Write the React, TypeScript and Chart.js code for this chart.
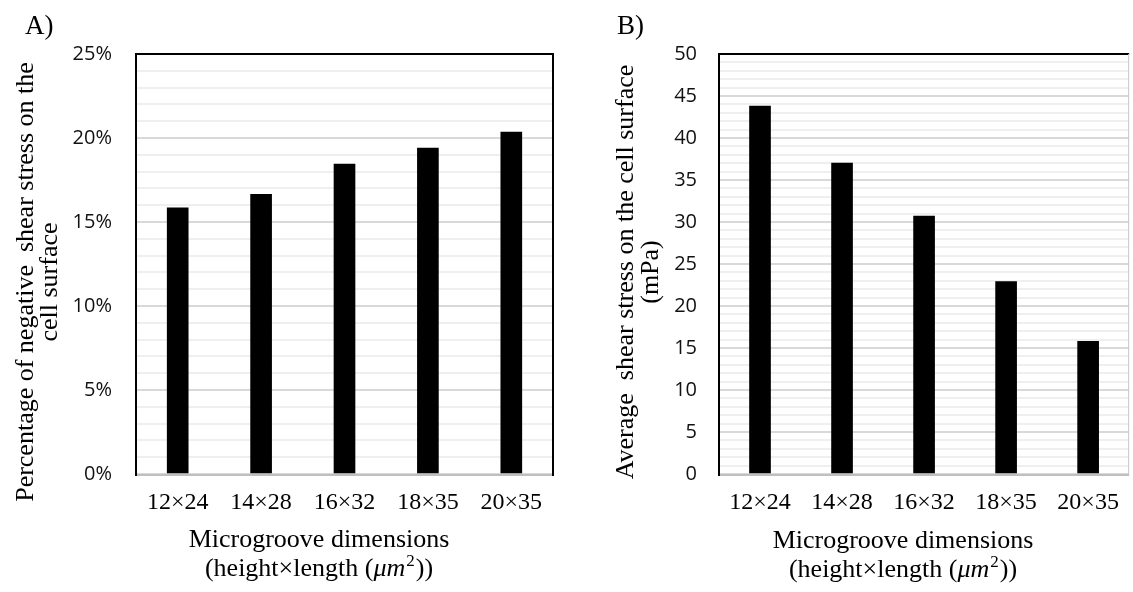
import React, { useEffect, useRef } from 'react';
import { Chart, registerables } from 'chart.js';
Chart.register(...registerables);

const categories = ['12×24', '14×28', '16×32', '18×35', '20×35'];
const negativeShearPct = [15.85, 16.65, 18.45, 19.4, 20.35];
const averageShear = [43.8, 37.0, 30.7, 22.9, 15.8];

const SERIF = '"Liberation Serif", "Times New Roman", serif';
const SANS = '"Open Sans", sans-serif';

type PanelCfg = {
  label: string;
  labelX: number;
  yTitle: string[];
  yTitleX: number[];
  yTitleY: number;
  xTitleCX: number;
  xTitleY: number[];
  rightBorder: string;
};

function makeTextPlugin(cfg: PanelCfg) {
  return {
    id: 'panelText',
    afterDraw(chart: any) {
      const { ctx, chartArea: ca } = chart;
      ctx.save();
      // bottom axis line
      ctx.strokeStyle = '#bfbfbf';
      ctx.lineWidth = 2;
      ctx.beginPath();
      ctx.moveTo(ca.left, ca.bottom + 1);
      ctx.lineTo(ca.right, ca.bottom + 1);
      ctx.stroke();
      // frame
      ctx.strokeStyle = '#000';
      ctx.lineWidth = 2;
      ctx.beginPath();
      ctx.moveTo(ca.left, ca.bottom + 2);
      ctx.lineTo(ca.left, ca.top);
      ctx.lineTo(ca.right, ca.top);
      if (cfg.rightBorder === 'black') ctx.lineTo(ca.right, ca.bottom + 2);
      ctx.stroke();
      if (cfg.rightBorder === 'gray') {
        ctx.strokeStyle = '#c8c8c8';
        ctx.lineWidth = 1;
        ctx.beginPath();
        ctx.moveTo(ca.right - 0.5, ca.top);
        ctx.lineTo(ca.right - 0.5, ca.bottom);
        ctx.stroke();
      }

      ctx.fillStyle = '#000';
      // panel label
      ctx.font = `27px ${SERIF}`;
      ctx.textAlign = 'left';
      ctx.textBaseline = 'alphabetic';
      ctx.fillText(cfg.label, cfg.labelX, 34);

      // y title
      ctx.font = `26px ${SERIF}`;
      ctx.textAlign = 'center';
      cfg.yTitle.forEach((line, i) => {
        ctx.save();
        ctx.translate(cfg.yTitleX[i], cfg.yTitleY);
        ctx.rotate(-Math.PI / 2);
        ctx.fillText(line, 0, 0);
        ctx.restore();
      });

      // x title line 1
      ctx.font = `26px ${SERIF}`;
      ctx.textAlign = 'center';
      ctx.fillText('Microgroove dimensions', cfg.xTitleCX, cfg.xTitleY[0]);

      // x title line 2 with italic μm and superscript 2
      ctx.textAlign = 'left';
      const pre = '(height×length (';
      const mu = 'μm';
      const sup = '2';
      const post = '))';
      const normal = `26px ${SERIF}`;
      const italic = `italic 26px ${SERIF}`;
      const small = `17px ${SERIF}`;
      ctx.font = normal;
      const wPre = ctx.measureText(pre).width;
      const wPost = ctx.measureText(post).width;
      ctx.font = italic;
      const wMu = ctx.measureText(mu).width;
      ctx.font = small;
      const wSup = ctx.measureText(sup).width;
      const total = wPre + wMu + wSup + 2 + wPost;
      let x = cfg.xTitleCX - total / 2;
      const y = cfg.xTitleY[1];
      ctx.font = normal;
      ctx.fillText(pre, x, y);
      x += wPre;
      ctx.font = italic;
      ctx.fillText(mu, x, y);
      x += wMu + 1;
      ctx.font = small;
      ctx.fillText(sup, x, y - 10);
      x += wSup + 1;
      ctx.font = normal;
      ctx.fillText(post, x, y);
      ctx.restore();
    },
  };
}

function makeConfig(
  values: number[],
  max: number,
  fmt: (v: number) => string,
  yWidth: number,
  padRight: number,
  tickPad: number,
  cfg: PanelCfg
): any {
  return {
    type: 'bar',
    data: {
      labels: categories,
      datasets: [
        {
          data: values,
          backgroundColor: '#000',
          borderWidth: 0,
          barThickness: 21,
        },
      ],
    },
    options: {
      responsive: false,
      animation: false,
      devicePixelRatio: 1,
      layout: { padding: { top: 54, right: padRight, left: 0, bottom: 0 } },
      plugins: { legend: { display: false }, tooltip: { enabled: false } },
      scales: {
        x: {
          grid: { display: false, drawTicks: false },
          border: { display: false },
          ticks: {
            color: '#000',
            padding: 14,
            maxRotation: 0,
            autoSkip: false,
            font: { family: SERIF, size: 24 },
          },
          afterFit: (s: any) => {
            s.height = 118;
          },
        },
        y: {
          min: 0,
          max,
          grid: {
            drawTicks: false,
            lineWidth: 2,
            color: (c: any) => (c.tick && c.tick.value % 5 === 0 ? '#d9d9d9' : '#efefef'),
          },
          border: { display: false },
          ticks: {
            stepSize: 1,
            autoSkip: false,
            padding: tickPad,
            color: '#111',
            font: { family: SANS, size: 20 },
            callback: (v: any) => (Number(v) % 5 === 0 ? fmt(Number(v)) : ''),
          },
          afterFit: (s: any) => {
            s.width = yWidth;
          },
        },
      },
    },
    plugins: [makeTextPlugin(cfg)],
  };
}

function Panel(props: { config: any; left: number; width: number }) {
  const ref = useRef<HTMLCanvasElement>(null);
  useEffect(() => {
    if (!ref.current) return;
    const chart = new Chart(ref.current, props.config);
    return () => chart.destroy();
  }, []);
  return (
    <canvas
      ref={ref}
      width={props.width}
      height={592}
      style={{ position: 'absolute', left: props.left, top: 0, width: props.width, height: 592 }}
    />
  );
}

export default function App() {
  const cfgA: PanelCfg = {
    label: 'A)',
    labelX: 25,
    yTitle: ['Percentage of negative  shear stress on the', 'cell surface'],
    yTitleX: [33, 57],
    yTitleY: 282,
    xTitleCX: 319,
    xTitleY: [547, 576],
    rightBorder: 'black',
  };
  const cfgB: PanelCfg = {
    label: 'B)',
    labelX: 51,
    yTitle: ['Average  shear stress on the cell surface', '(mPa)'],
    yTitleX: [67, 92],
    yTitleY: 272,
    xTitleCX: 337,
    xTitleY: [548, 577],
    rightBorder: 'gray',
  };
  const configA = makeConfig(negativeShearPct, 25, (v) => v + '%', 136, 13, 24, cfgA);
  const configB = makeConfig(averageShear, 50, (v) => String(v), 153, 1, 22, cfgB);
  return (
    <div style={{ position: 'absolute', left: 0, top: 0, width: 1133, height: 592, background: '#fff' }}>
      <Panel config={configA} left={0} width={566} />
      <Panel config={configB} left={566} width={567} />
    </div>
  );
}
